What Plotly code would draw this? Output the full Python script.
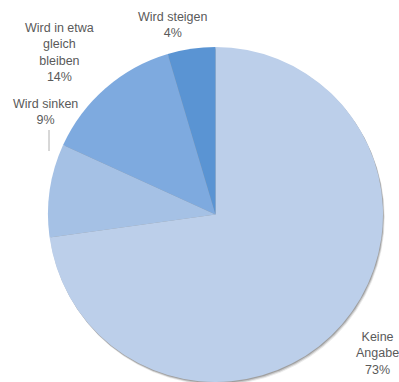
import plotly.graph_objects as go

categories = ["Keine Angabe", "Wird sinken", "Wird in etwa gleich bleiben", "Wird steigen"]
values = [72.8, 9.0, 13.6, 4.6]
label_texts = ["Keine<br>Angabe<br>73%", "Wird sinken<br>9%", "Wird in etwa<br>gleich<br>bleiben<br>14%", "Wird steigen<br>4%"]
colors = ["#bccfea", "#a5c1e5", "#7eaadf", "#5a94d3"]

W, H = 399, 382
cx, cy, r = 215.5, 214.5, 167.5

fig = go.Figure()
fig.add_trace(go.Pie(
    labels=categories,
    values=values,
    sort=False,
    direction="clockwise",
    rotation=0,
    textinfo="none",
    hoverinfo="label+percent",
    marker=dict(colors=colors, line=dict(width=0)),
    domain=dict(x=[(cx - r) / W, (cx + r) / W], y=[(H - cy - r) / H, (H - cy + r) / H]),
    showlegend=False,
))

# label positions in pixels (center)
label_pos = [(377, 353), (45, 112), (59, 52), (173, 25)]
for txt, (px, py) in zip(label_texts, label_pos):
    fig.add_annotation(x=px / W, y=1 - py / H, xref="paper", yref="paper",
                       text=txt, showarrow=False, xanchor="center", yanchor="middle",
                       font=dict(family="Liberation Sans, Arial, sans-serif", size=12.5, color="#5a5a5a"),
                       align="center")

# leader line for "Wird sinken"
fig.add_shape(type="line", xref="paper", yref="paper",
              x0=49 / W, x1=49 / W, y0=1 - 130 / H, y1=1 - 151 / H,
              line=dict(color="#b0b0b0", width=1))

# soft shadow behind pie
for off, a in [(3.0, 0.08), (2.0, 0.15), (1.0, 0.2)]:
    fig.add_shape(type="circle", xref="paper", yref="paper", layer="below",
                  x0=(cx - r + off * 0.6) / W, x1=(cx + r + off * 0.6) / W,
                  y0=(H - cy - r - off) / H, y1=(H - cy + r - off) / H,
                  fillcolor=f"rgba(0,0,0,{a})", line=dict(width=0))

fig.update_layout(width=W, height=H, margin=dict(l=0, r=0, t=0, b=0),
                  paper_bgcolor="white", plot_bgcolor="white")
fig.write_html("out.html")
